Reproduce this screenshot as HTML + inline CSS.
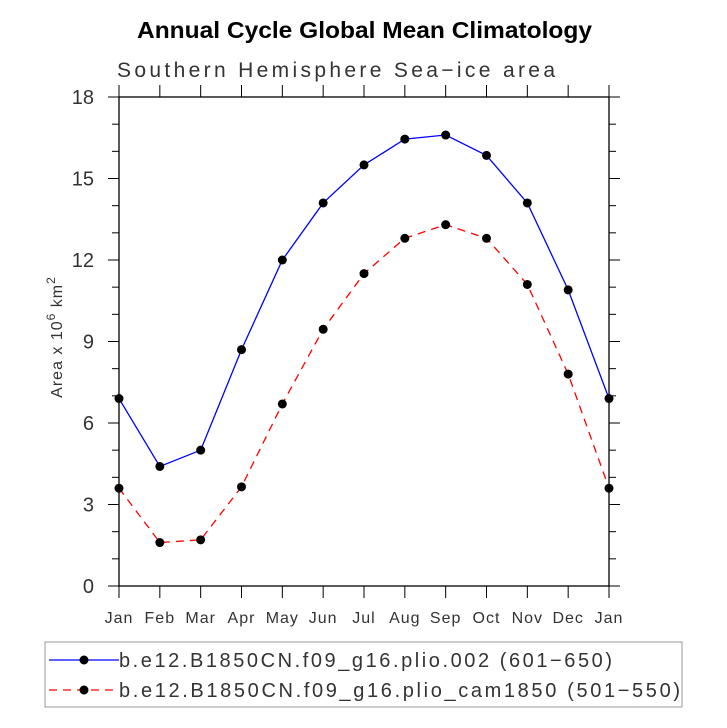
<!DOCTYPE html>
<html><head><meta charset="utf-8"><style>
html,body{margin:0;padding:0;background:#fff;}
svg{display:block;font-family:"Liberation Sans",sans-serif;}
</style></head><body>
<svg id="chart" width="727" height="728" viewBox="0 0 727 728">
<text x="137" y="38" textLength="455" lengthAdjust="spacingAndGlyphs" font-size="23" font-weight="bold" fill="#000">Annual Cycle Global Mean Climatology</text>
<text x="117" y="77" textLength="438" font-size="21" fill="#333">Southern Hemisphere Sea−ice area</text>
<g id="axes"></g>
<g id="series"></g>
<text transform="translate(62,337) rotate(-90)" text-anchor="middle" font-size="16" fill="#333" letter-spacing="1">Area x 10<tspan dy="-7" font-size="12">6</tspan><tspan dy="7"> km</tspan><tspan dy="-7" font-size="12">2</tspan></text>
<g>
<rect x="45" y="642" width="637" height="65" fill="none" stroke="#999" stroke-width="1"/>
<g>
<line x1="49" y1="660" x2="119" y2="660" stroke="#0000ff" stroke-width="1.3"/>
<circle cx="84" cy="660" r="4.5" fill="#000"/>
<text x="119" y="667" textLength="493" font-size="20" fill="#333">b.e12.B1850CN.f09_g16.plio.002 (601−650)</text>
</g>
<g>
<line x1="49" y1="690" x2="119" y2="690" stroke="#ff0000" stroke-width="1.3" stroke-dasharray="8,6"/>
<circle cx="84" cy="690" r="4.5" fill="#000"/>
<text x="119" y="697" textLength="561" font-size="20" fill="#333">b.e12.B1850CN.f09_g16.plio_cam1850 (501−550)</text>
</g>
</g>
</svg>
<script>
const months = ["Jan","Feb","Mar","Apr","May","Jun","Jul","Aug","Sep","Oct","Nov","Dec","Jan"];
const plioValues = [6.9,4.4,5.0,8.7,12.0,14.1,15.5,16.45,16.6,15.85,14.1,10.9,6.9];
const cam1850Values = [3.6,1.6,1.7,3.65,6.7,9.45,11.5,12.8,13.3,12.8,11.1,7.8,3.6];
const yTicks = [0,3,6,9,12,15,18];

const L=119,R=609,T=97,B=586,ymax=18;
const NS="http://www.w3.org/2000/svg";
function xs(i){return L+(R-L)*i/(months.length-1);}
function ys(v){return B-(B-T)*v/ymax;}
function mk(tag,attrs,parent){const e=document.createElementNS(NS,tag);for(const k in attrs)e.setAttribute(k,attrs[k]);parent.appendChild(e);return e;}
const axes=document.getElementById('axes');
const frame=mk('rect',{x:L,y:T,width:R-L,height:B-T,fill:'none',stroke:'#000','stroke-width':1.3},axes);


months.forEach((m,i)=>{
  const x=xs(i);
  mk('line',{x1:x,y1:B,x2:x,y2:B+12,stroke:'#000','stroke-width':1},axes);
  mk('line',{x1:x,y1:T,x2:x,y2:T-12,stroke:'#000','stroke-width':1},axes);
  const t=mk('text',{x:x,y:B+37,'text-anchor':'middle','font-size':16,'letter-spacing':1,fill:'#333'},axes);
  t.textContent=m;
  
  
});
for(let v=0;v<=ymax;v+=1){
  const y=ys(v);const major=yTicks.includes(v);const len=major?11:7;
  mk('line',{x1:L-len,y1:y,x2:L,y2:y,stroke:'#000','stroke-width':1},axes);
  mk('line',{x1:R,y1:y,x2:R+len,y2:y,stroke:'#000','stroke-width':1},axes);
}
yTicks.forEach(v=>{
  const t=mk('text',{x:94,y:ys(v)+7,'text-anchor':'end','font-size':20,fill:'#333'},axes);
  t.textContent=v;
  
  
});
const series=document.getElementById('series');
function draw(vals,color,dash,name){
  const g=mk('g',{},series);
  
  
  const pts=vals.map((v,i)=>xs(i)+','+ys(v)).join(' ');
  const a={points:pts,fill:'none',stroke:color,'stroke-width':1.3};
  if(dash)a['stroke-dasharray']=dash;
  const pl=mk('polyline',a,g);
  
  
  vals.forEach((v,i)=>{
    const c=mk('circle',{cx:xs(i),cy:ys(v),r:4.5,fill:'#000'},g);
    
    
  });
}
draw(plioValues,'#0000ff',null,'series-plio');
draw(cam1850Values,'#ff0000','8,6','series-plio-cam1850');
</script>
</body></html>
